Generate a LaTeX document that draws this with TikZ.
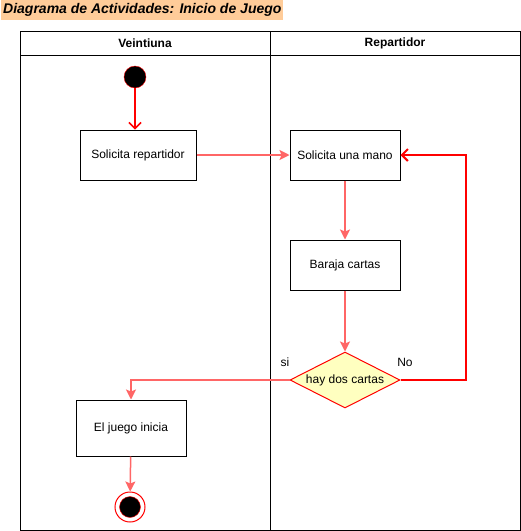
\documentclass[tikz,border=0pt]{standalone}
\usepackage{fontspec}
\setmainfont{Liberation Sans}
\usetikzlibrary{arrows.meta,shapes.geometric}
\definecolor{salmon}{HTML}{FF6666}
\definecolor{titlebg}{HTML}{FFCC99}
\definecolor{decfill}{HTML}{FFFFC0}
\tikzset{
  action/.style={draw, line width=1pt, minimum width=110pt, minimum height=50pt, font=\fontsize{12}{14}\selectfont},
  decision/.style={diamond, aspect=2, draw=red, fill=decfill, line width=1pt, minimum width=110pt, minimum height=56pt, inner sep=0pt, font=\fontsize{12}{14}\selectfont},
  flow/.style={salmon, line width=1.5pt, -{Stealth[length=10pt, width=10pt, inset=2pt]}},
  redflow/.style={red, line width=1.5pt, -{Straight Barb[length=6pt, width=12pt]}},
  lbl/.style={font=\fontsize{12}{14}\selectfont}
}
\begin{document}
\begin{tikzpicture}[x=1pt, y=-1pt]
\useasboundingbox (0,0) rectangle (521,531);
% titulo
\node[fill=titlebg, anchor=north west, inner sep=2pt, minimum height=20pt, font=\bfseries\itshape\fontsize{14}{16}\selectfont] (titulo) at (1,0) {Diagrama de Actividades: Inicio de Juego};
% carriles
\draw [line width=1pt] (20,31) rectangle (520,530);
\draw [line width=1pt] (20,55) -- (520,55);
\draw [line width=1pt] (270,31) -- (270,530);
\node[font=\bfseries\fontsize{12}{14}\selectfont] (veintiuna) at (145,43) {Veintiuna};
\node[font=\bfseries\fontsize{12}{14}\selectfont] (repartidor) at (395,43) {Repartidor};
% nodos
\node[circle, draw=red, fill=black, minimum size=22pt, inner sep=0pt] (inicio) at (135,77) {};
\node[action, minimum width=116pt] (solrep) at (138,155) {Solicita repartidor};
\node[action] (solmano) at (345,155) {Solicita una mano};
\node[action] (baraja) at (345,265) {Baraja cartas};
\node[decision] (dos) at (345,380) {hay dos cartas};
\node[action, minimum height=56pt] (juego) at (131,428) {El juego inicia};
\node[circle, draw=red, line width=1pt, minimum size=30pt, inner sep=0pt] (fin) at (130,507) {};
\draw [red, fill=black] (fin.center) circle (10.5pt);
\node[lbl] (si) at (285,362) {si};
\node[lbl] (no) at (405,362) {No};
% conectores
\draw [redflow] (inicio) -- (inicio |- solrep.north);
\draw [flow] (solrep) -- (solmano);
\draw [flow] (solmano) -- (baraja);
\draw [flow] (baraja) -- (dos);
\draw [flow] (dos.west) -| (juego.north);
\draw [redflow, line width=2pt] (dos.east) -- ++(65,0) |- (solmano.east);
\draw [flow] (juego) -- (fin);
\end{tikzpicture}
\end{document}
